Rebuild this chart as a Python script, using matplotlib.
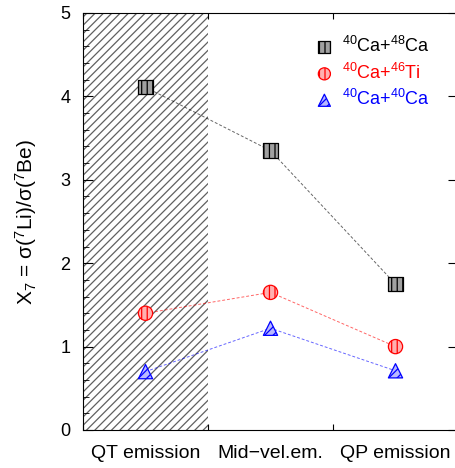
import numpy as np
import matplotlib as mpl
import matplotlib.pyplot as plt

mpl.rcParams['font.family'] = ['Liberation Sans', 'DejaVu Sans']
mpl.rcParams['mathtext.fontset'] = 'custom'
mpl.rcParams['mathtext.rm'] = 'Liberation Sans'
mpl.rcParams['mathtext.it'] = 'Liberation Sans'
mpl.rcParams['hatch.linewidth'] = 0.9

# categories and values
categories = ['QT emission', 'Mid\u2212vel.em.', 'QP emission']
x_pos = [1, 2, 3]
ca48 = [4.11, 3.35, 1.75]
ti46 = [1.40, 1.65, 1.00]
ca40 = [0.70, 1.22, 0.71]

series = [
    (ca48, 's', 'black', '#a0a0a0', '|||', r'$^{40}$Ca+$^{48}$Ca'),
    (ti46, 'o', 'red', '#ffb0b0', '|||', r'$^{40}$Ca+$^{46}$Ti'),
    (ca40, '^', 'blue', '#b8b8ff', '////', r'$^{40}$Ca+$^{40}$Ca'),
]

fig = plt.figure(figsize=(4.56, 4.68), dpi=100)
ax = fig.add_axes([83/456, 38/468, 375/456, 417/468])

# shaded QT emission region
ax.axvspan(0.5, 1.5, facecolor='white', edgecolor='#606060', hatch='////', linewidth=0, zorder=0)

for vals, mk, col, fill, htch, lab in series:
    ax.plot(x_pos, vals, linestyle=(0, (3, 2)), color=col, linewidth=0.7, alpha=0.6, zorder=2)
    ax.scatter(x_pos, vals, marker=mk, s=105, facecolor=fill, edgecolor=col,
               hatch=htch, linewidth=0.9, zorder=3, label=lab)

ax.set_xlim(0.5, 3.5)
ax.set_ylim(0, 5)

ax.set_xticks([0.5, 1.5, 2.5, 3.5])
ax.set_xticklabels([])
ax.set_xticks(x_pos, minor=True)
ax.set_xticklabels(categories, minor=True, fontsize=14)
ax.tick_params(axis='x', which='minor', length=0, pad=11)
ax.tick_params(axis='x', which='major', direction='in', length=4, top=True)

ax.set_yticks(np.arange(0, 6, 1))
ax.set_yticks(np.arange(0, 5.01, 0.2), minor=True)
ax.tick_params(axis='y', which='major', direction='in', length=7, right=True, labelsize=13, pad=9)
ax.tick_params(axis='y', which='minor', direction='in', length=4, right=False)

ax.set_ylabel('X$_7$ = σ($^7$Li)/σ($^7$Be)', fontsize=15)
ax.yaxis.set_label_coords(-0.118, 0.5)

leg = ax.legend(loc='upper right', frameon=False, fontsize=13, handletextpad=0.0,
                borderaxespad=0.3, bbox_to_anchor=(0.96, 0.975), labelspacing=0.35,
                markerscale=0.85)
for txt, s in zip(leg.get_texts(), series):
    txt.set_color(s[2])

fig.savefig('out.png', dpi=100)
